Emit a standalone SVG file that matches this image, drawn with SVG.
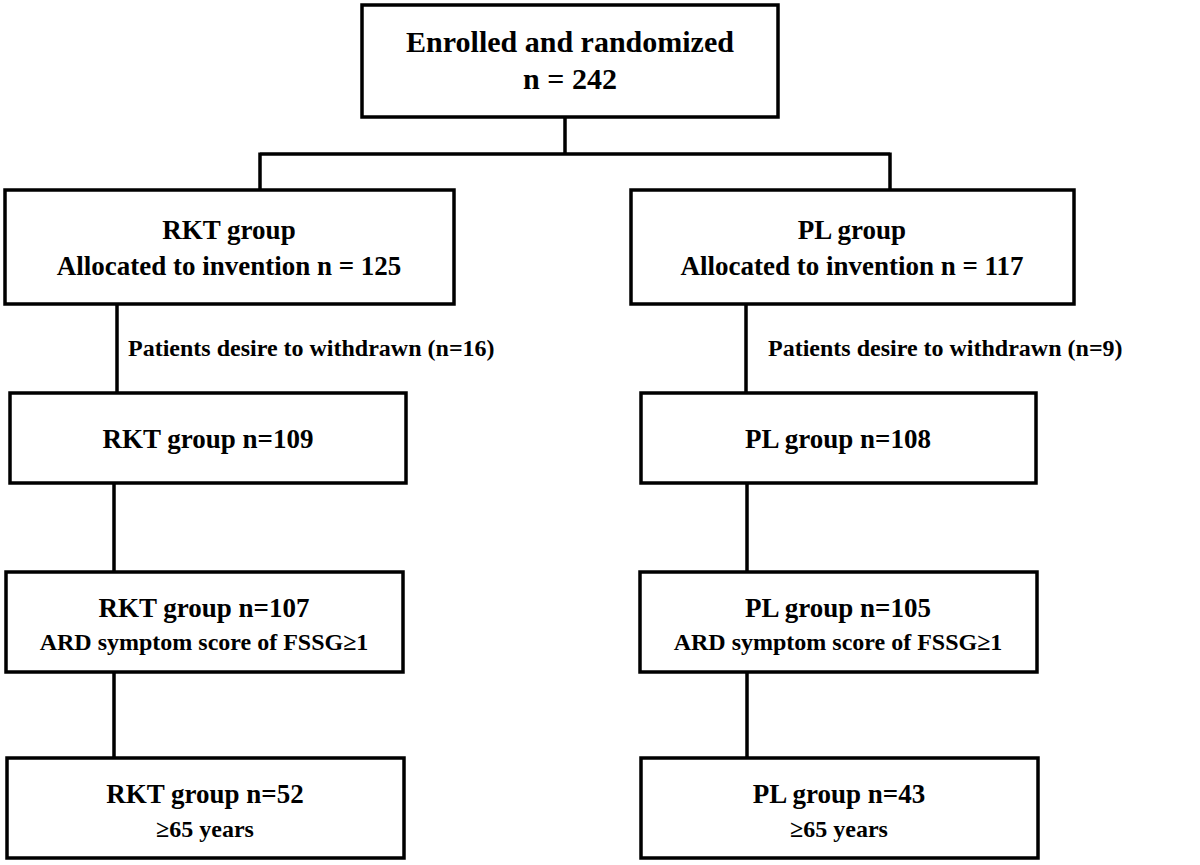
<svg xmlns="http://www.w3.org/2000/svg" width="1200" height="865" viewBox="0 0 1200 865">
<style>
.box{fill:#fff;stroke:#000;stroke-width:3.5}
.ln{fill:none;stroke:#000;stroke-width:3.5}
text{font-family:"Liberation Serif","Times New Roman",serif;font-weight:bold;fill:#000;text-anchor:middle}
.t1{font-size:27px}
.t0{font-size:30px}
.t2{font-size:24px}
.lab{font-size:24px;text-anchor:start}
</style>
<rect width="1200" height="865" fill="#fff"/>
<g id="connectors">
<path class="ln" d="M565 117V154M260 154H890M260 152.5V190M890 152.5V190"/>
<path class="ln" d="M117 304V393M114 483V572M114 672V758"/>
<path class="ln" d="M746 304V393M747 483V572M747 672V758"/>
<text class="lab" x="128" y="356">Patients desire to withdrawn (n=16)</text>
<text class="lab" x="768" y="356">Patients desire to withdrawn (n=9)</text>
</g>
<g id="enrolled">
<rect class="box" x="362" y="5" width="416" height="112"/>
<text class="t0" x="570" y="52">Enrolled and randomized</text>
<text class="t0" x="570" y="89">n = 242</text>
</g>
<g id="rkt-alloc">
<rect class="box" x="5" y="190" width="449" height="114"/>
<text class="t1" x="229" y="239">RKT group</text>
<text class="t1" x="229" y="275">Allocated to invention n = 125</text>
</g>
<g id="pl-alloc">
<rect class="box" x="631" y="190" width="443" height="114"/>
<text class="t1" x="852" y="239">PL group</text>
<text class="t1" x="852" y="275">Allocated to invention n = 117</text>
</g>
<g id="rkt-109">
<rect class="box" x="10" y="393" width="396" height="90"/>
<text class="t1" x="208" y="448">RKT group n=109</text>
</g>
<g id="pl-108">
<rect class="box" x="641" y="393" width="395" height="90"/>
<text class="t1" x="838" y="448">PL group n=108</text>
</g>
<g id="rkt-107">
<rect class="box" x="6" y="572" width="397" height="100"/>
<text class="t1" x="204" y="617">RKT group n=107</text>
<text class="t2" x="204" y="650">ARD symptom score of FSSG≥1</text>
</g>
<g id="pl-105">
<rect class="box" x="640" y="572" width="397" height="100"/>
<text class="t1" x="838" y="617">PL group n=105</text>
<text class="t2" x="838" y="650">ARD symptom score of FSSG≥1</text>
</g>
<g id="rkt-52">
<rect class="box" x="7" y="758" width="397" height="100"/>
<text class="t1" x="205" y="803">RKT group n=52</text>
<text class="t2" x="205" y="837">≥65 years</text>
</g>
<g id="pl-43">
<rect class="box" x="641" y="758" width="397" height="100"/>
<text class="t1" x="839" y="803">PL group n=43</text>
<text class="t2" x="839" y="837">≥65 years</text>
</g>
</svg>
